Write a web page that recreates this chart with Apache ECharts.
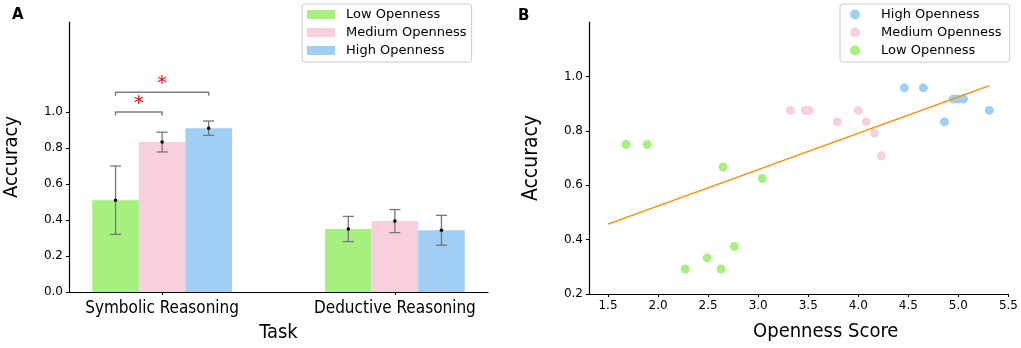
<!DOCTYPE html>
<html>
<head>
<meta charset="utf-8">
<script src="https://cdn.jsdelivr.net/npm/echarts@6/dist/echarts.min.js"></script>
<style>
  html, body { margin: 0; padding: 0; background: #fff; }
  #chart { width: 1021px; height: 348px; }
</style>
</head>
<body>
<div id="chart"></div>
<script>
// panel A: mean accuracy per task and openness group
const tasks = ['Symbolic Reasoning', 'Deductive Reasoning'];
const groups = ['Low Openness', 'Medium Openness', 'High Openness'];
const lowMean = [0.51, 0.35];
const medMean = [0.833, 0.394];
const highMean = [0.91, 0.343];
const lowErr = [0.19, 0.07];
const medErr = [0.055, 0.064];
const highErr = [0.04, 0.083];
const accTicks = [0, 0.2, 0.4, 0.6, 0.8, 1.0];

// significance brackets (Symbolic: low vs medium, low vs high)
const bracketFrom = [-0.2, -0.2];
const bracketTo = [0, 0.2];
const bracketY = [1.0, 1.11];
const starX = [-0.1, 0];
const starY = [1.06, 1.175];

// panel B: openness score vs accuracy
const lowScore = [1.68, 1.89, 2.65, 3.04, 2.27, 2.49, 2.63, 2.76];
const lowAcc = [0.75, 0.75, 0.667, 0.625, 0.292, 0.333, 0.292, 0.375];
const medScore = [3.32, 3.47, 3.51, 4.0, 3.79, 4.08, 4.16, 4.23];
const medAcc = [0.875, 0.875, 0.875, 0.875, 0.833, 0.833, 0.792, 0.708];
const highScore = [4.46, 4.65, 4.95, 4.99, 5.05, 4.86, 5.31];
const highAcc = [0.958, 0.958, 0.917, 0.917, 0.917, 0.833, 0.875];
const fitX = [1.5, 5.31];
const fitY = [0.457, 0.966];
const scoreTicks = [1.5, 2.0, 2.5, 3.0, 3.5, 4.0, 4.5, 5.0, 5.5];
const accTicksB = [0.2, 0.4, 0.6, 0.8, 1.0];

const GREEN = '#a6f07f';
const PINK = '#f8d0dd';
const BLUE = '#a0cff5';
const FONT = 'DejaVu Sans';
const NAME_FONT = "'DejaVu Sans Condensed', 'DejaVu Sans'";

const chart = echarts.init(document.getElementById('chart'), null, { renderer: 'canvas' });

function barSeries(name, color, means, errs, offset) {
  return {
    name: name,
    type: 'custom',
    xAxisIndex: 0, yAxisIndex: 0,
    itemStyle: { color: color },
    data: means.map((m, i) => [i, m, errs[i]]),
    renderItem: function (params, api) {
      const x = api.value(0) + offset;
      const m = api.value(1), e = api.value(2);
      const tl = api.coord([x - 0.1, m]);
      const br = api.coord([x + 0.1, 0]);
      const top = api.coord([x, m + e]);
      const bot = api.coord([x, m - e]);
      const mid = api.coord([x, m]);
      const cap = 5.5;
      const ls = { stroke: '#777', lineWidth: 1.3 };
      return {
        type: 'group',
        children: [
          { type: 'rect', shape: { x: tl[0], y: tl[1], width: br[0] - tl[0], height: br[1] - tl[1] }, style: { fill: color } },
          { type: 'line', shape: { x1: top[0], y1: top[1], x2: bot[0], y2: bot[1] }, style: ls },
          { type: 'line', shape: { x1: top[0] - cap, y1: top[1], x2: top[0] + cap, y2: top[1] }, style: ls },
          { type: 'line', shape: { x1: bot[0] - cap, y1: bot[1], x2: bot[0] + cap, y2: bot[1] }, style: ls },
          { type: 'circle', shape: { cx: mid[0], cy: mid[1], r: 1.8 }, style: { fill: '#000' } }
        ]
      };
    }
  };
}

const axisLine = { show: true, onZero: false, lineStyle: { color: '#000', width: 1.2 } };
const tickStyle = { show: true, length: 3, lineStyle: { color: '#000', width: 1 } };
const tickText = { color: '#000', fontFamily: FONT, fontSize: 12 };

chart.setOption({
  animation: false,
  backgroundColor: '#fff',
  grid: [
    { left: 69, right: 533, top: 22, bottom: 54 },
    { left: 589, right: 12, top: 22, bottom: 54 }
  ],
  xAxis: [
    {
      gridIndex: 0, type: 'value', min: -0.4, max: 1.4,
      name: 'Task', nameLocation: 'middle', nameGap: 31,
      nameTextStyle: { color: '#000', fontFamily: NAME_FONT, fontSize: 20 },
      axisLine: axisLine, splitLine: { show: false },
      axisTick: Object.assign({ customValues: [0, 1] }, tickStyle),
      axisLabel: Object.assign({
        customValues: [0, 1], margin: 8,
        formatter: v => tasks[Math.round(v)] || ''
      }, tickText, { fontFamily: NAME_FONT, fontSize: 17 })
    },
    {
      gridIndex: 1, type: 'value', min: 1.31, max: 5.5,
      name: 'Openness Score', nameLocation: 'middle', nameGap: 28,
      nameTextStyle: { color: '#000', fontFamily: NAME_FONT, fontSize: 20, padding: [0, 0, 0, 54] },
      axisLine: axisLine, splitLine: { show: false },
      axisTick: Object.assign({ customValues: scoreTicks }, tickStyle),
      axisLabel: Object.assign({ customValues: scoreTicks, margin: 6, formatter: v => v.toFixed(1) }, tickText)
    }
  ],
  yAxis: [
    {
      gridIndex: 0, type: 'value', min: 0, max: 1.5,
      name: 'Accuracy', nameLocation: 'middle', nameGap: 47,
      nameTextStyle: { color: '#000', fontFamily: NAME_FONT, fontSize: 20 },
      axisLine: axisLine, splitLine: { show: false },
      axisTick: Object.assign({ customValues: accTicks }, tickStyle),
      axisLabel: Object.assign({ customValues: accTicks, margin: 6, formatter: v => v.toFixed(1) }, tickText)
    },
    {
      gridIndex: 1, type: 'value', min: 0.2, max: 1.2,
      name: 'Accuracy', nameLocation: 'middle', nameGap: 47,
      nameTextStyle: { color: '#000', fontFamily: NAME_FONT, fontSize: 21 },
      axisLine: axisLine, splitLine: { show: false },
      axisTick: Object.assign({ customValues: accTicksB }, tickStyle),
      axisLabel: Object.assign({ customValues: accTicksB, margin: 6, formatter: v => v.toFixed(1) }, tickText)
    }
  ],
  legend: [
    {
      data: groups, orient: 'vertical', left: 302, top: 4,
      icon: 'rect', itemWidth: 28, itemHeight: 9, itemGap: 5,
      padding: [4, 5, 5, 5], borderColor: '#ccc', borderWidth: 1, borderRadius: 3,
      textStyle: { color: '#000', fontFamily: FONT, fontSize: 13, padding: [0, 0, 0, 6] },
      selectedMode: false
    },
    {
      data: groups.slice().reverse(), orient: 'vertical', left: 840, top: 4,
      icon: 'circle', itemWidth: 10, itemHeight: 10, itemGap: 5,
      padding: [4, 8, 5, 10], borderColor: '#ccc', borderWidth: 1, borderRadius: 3,
      textStyle: { color: '#000', fontFamily: FONT, fontSize: 13, padding: [0, 0, 0, 16] },
      selectedMode: false
    }
  ],
  graphic: [
    { type: 'text', left: 12, top: 8, style: { text: 'A', fontFamily: FONT, fontWeight: 'bold', fontSize: 15, fill: '#000' } },
    { type: 'text', left: 518, top: 9, style: { text: 'B', fontFamily: FONT, fontWeight: 'bold', fontSize: 15, fill: '#000' } }
  ],
  series: [
    barSeries(groups[0], GREEN, lowMean, lowErr, -0.2),
    barSeries(groups[1], PINK, medMean, medErr, 0),
    barSeries(groups[2], BLUE, highMean, highErr, 0.2),
    {
      type: 'custom', xAxisIndex: 0, yAxisIndex: 0, silent: true,
      data: bracketY.map((y, i) => [bracketFrom[i], bracketTo[i], y]),
      renderItem: function (params, api) {
        const a = api.coord([api.value(0), api.value(2)]);
        const b = api.coord([api.value(1), api.value(2)]);
        const drop = 3.5;
        return {
          type: 'polyline',
          shape: { points: [[a[0], a[1] + drop], a, b, [b[0], b[1] + drop]] },
          style: { stroke: '#808080', lineWidth: 1.5, fill: null }
        };
      }
    },
    {
      type: 'custom', xAxisIndex: 0, yAxisIndex: 0, silent: true,
      data: starX.map((x, i) => [x, starY[i]]),
      renderItem: function (params, api) {
        const p = api.coord([api.value(0), api.value(1)]);
        return {
          type: 'text', x: p[0], y: p[1] + 3,
          style: { text: '*', fill: '#ff0000', fontFamily: FONT, fontSize: 20, align: 'center', verticalAlign: 'middle' }
        };
      }
    },
    {
      name: groups[2], type: 'scatter', xAxisIndex: 1, yAxisIndex: 1,
      symbolSize: 9, itemStyle: { color: BLUE, opacity: 1 },
      data: highScore.map((x, i) => [x, highAcc[i]])
    },
    {
      name: groups[1], type: 'scatter', xAxisIndex: 1, yAxisIndex: 1,
      symbolSize: 9, itemStyle: { color: PINK, opacity: 1 },
      data: medScore.map((x, i) => [x, medAcc[i]])
    },
    {
      name: groups[0], type: 'scatter', xAxisIndex: 1, yAxisIndex: 1,
      symbolSize: 9, itemStyle: { color: GREEN, opacity: 1 },
      data: lowScore.map((x, i) => [x, lowAcc[i]])
    },
    {
      type: 'line', xAxisIndex: 1, yAxisIndex: 1, silent: true,
      showSymbol: false, symbol: 'none',
      lineStyle: { color: '#ff8c00', width: 1.5 },
      data: fitX.map((x, i) => [x, fitY[i]])
    }
  ]
});
</script>
</body>
</html>
